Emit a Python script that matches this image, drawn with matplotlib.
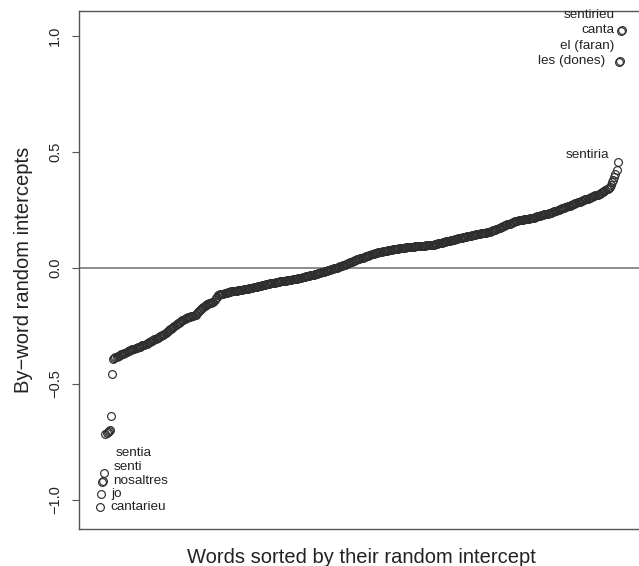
import numpy as np
import matplotlib
matplotlib.use("Agg")
import matplotlib.pyplot as plt

plt.rcParams['font.family'] = ['Liberation Sans', 'DejaVu Sans']

# by-word random intercepts, sorted
intercepts = [
    -1.034, -0.978, -0.925, -0.918, -0.884, -0.716, -0.712, -0.709, -0.705, -0.700,
    -0.640, -0.460, -0.392, -0.388, -0.386, -0.383, -0.382, -0.379, -0.377, -0.374,
    -0.372, -0.371, -0.368, -0.366, -0.363, -0.361, -0.359, -0.356, -0.354, -0.352,
    -0.350, -0.349, -0.347, -0.345, -0.343, -0.341, -0.340, -0.337, -0.335, -0.333,
    -0.331, -0.329, -0.327, -0.325, -0.322, -0.320, -0.317, -0.315, -0.312, -0.309,
    -0.306, -0.304, -0.301, -0.298, -0.296, -0.293, -0.290, -0.288, -0.285, -0.282,
    -0.278, -0.274, -0.270, -0.266, -0.262, -0.258, -0.254, -0.250, -0.246, -0.243,
    -0.240, -0.237, -0.233, -0.230, -0.227, -0.224, -0.220, -0.217, -0.215, -0.214,
    -0.212, -0.211, -0.209, -0.208, -0.206, -0.205, -0.203, -0.197, -0.191, -0.186,
    -0.182, -0.178, -0.174, -0.169, -0.165, -0.160, -0.158, -0.156, -0.154, -0.152,
    -0.150, -0.148, -0.146, -0.139, -0.132, -0.124, -0.117, -0.116, -0.115, -0.113,
    -0.112, -0.111, -0.110, -0.109, -0.107, -0.106, -0.105, -0.104, -0.102, -0.101,
    -0.100, -0.099, -0.099, -0.098, -0.097, -0.096, -0.095, -0.095, -0.094, -0.093,
    -0.092, -0.092, -0.091, -0.090, -0.089, -0.089, -0.088, -0.086, -0.085, -0.084,
    -0.083, -0.082, -0.080, -0.079, -0.078, -0.077, -0.075, -0.074, -0.073, -0.072,
    -0.071, -0.069, -0.068, -0.067, -0.066, -0.065, -0.064, -0.064, -0.063, -0.062,
    -0.061, -0.060, -0.059, -0.058, -0.058, -0.057, -0.056, -0.055, -0.054, -0.053,
    -0.053, -0.052, -0.051, -0.050, -0.049, -0.048, -0.048, -0.047, -0.046, -0.045,
    -0.044, -0.042, -0.041, -0.040, -0.039, -0.037, -0.036, -0.035, -0.034, -0.033,
    -0.031, -0.030, -0.029, -0.028, -0.026, -0.025, -0.024, -0.023, -0.021, -0.020,
    -0.018, -0.017, -0.015, -0.014, -0.012, -0.011, -0.009, -0.008, -0.006, -0.005,
    -0.003, -0.002, 0.000, 0.001, 0.003, 0.004, 0.006, 0.008, 0.010, 0.012,
    0.014, 0.016, 0.018, 0.020, 0.022, 0.024, 0.026, 0.028, 0.030, 0.032,
    0.034, 0.036, 0.037, 0.039, 0.041, 0.043, 0.044, 0.046, 0.048, 0.049,
    0.051, 0.053, 0.055, 0.056, 0.058, 0.060, 0.061, 0.063, 0.065, 0.066,
    0.067, 0.068, 0.069, 0.070, 0.071, 0.071, 0.072, 0.073, 0.074, 0.075,
    0.076, 0.077, 0.078, 0.079, 0.080, 0.081, 0.081, 0.082, 0.083, 0.084,
    0.085, 0.086, 0.086, 0.087, 0.087, 0.088, 0.088, 0.089, 0.089, 0.090,
    0.090, 0.091, 0.091, 0.092, 0.092, 0.093, 0.093, 0.094, 0.094, 0.095,
    0.095, 0.096, 0.096, 0.097, 0.097, 0.098, 0.098, 0.099, 0.099, 0.100,
    0.100, 0.101, 0.103, 0.104, 0.105, 0.106, 0.108, 0.109, 0.110, 0.111,
    0.112, 0.114, 0.115, 0.116, 0.117, 0.118, 0.120, 0.121, 0.122, 0.123,
    0.124, 0.126, 0.127, 0.128, 0.129, 0.130, 0.132, 0.133, 0.134, 0.135,
    0.136, 0.137, 0.138, 0.139, 0.140, 0.141, 0.142, 0.143, 0.144, 0.145,
    0.146, 0.147, 0.148, 0.148, 0.149, 0.150, 0.151, 0.152, 0.153, 0.154,
    0.155, 0.157, 0.159, 0.161, 0.163, 0.165, 0.167, 0.169, 0.171, 0.173,
    0.175, 0.177, 0.179, 0.181, 0.183, 0.185, 0.187, 0.189, 0.191, 0.193,
    0.195, 0.197, 0.199, 0.201, 0.203, 0.204, 0.205, 0.205, 0.206, 0.207,
    0.208, 0.209, 0.210, 0.210, 0.211, 0.212, 0.213, 0.214, 0.215, 0.216,
    0.217, 0.219, 0.220, 0.222, 0.223, 0.224, 0.226, 0.227, 0.229, 0.230,
    0.231, 0.233, 0.234, 0.235, 0.237, 0.238, 0.240, 0.241, 0.243, 0.245,
    0.247, 0.248, 0.250, 0.252, 0.254, 0.256, 0.257, 0.259, 0.261, 0.263,
    0.265, 0.267, 0.268, 0.270, 0.272, 0.274, 0.276, 0.278, 0.280, 0.282,
    0.283, 0.285, 0.287, 0.289, 0.291, 0.293, 0.295, 0.297, 0.298, 0.300,
    0.302, 0.304, 0.306, 0.308, 0.310, 0.312, 0.313, 0.315, 0.317, 0.319,
    0.322, 0.326, 0.329, 0.332, 0.336, 0.339, 0.342, 0.346, 0.349, 0.358,
    0.371, 0.380, 0.392, 0.405, 0.422, 0.457, 0.888, 0.893, 1.020, 1.026,
]

low_words = ["sentia", "senti", "nosaltres", "jo", "cantarieu"]
high_words = ["sentirieu", "canta", "el (faran)", "les (dones)"]
mid_word = "sentiria"

y = np.array(intercepts)
n = len(y)
x = np.arange(1, n + 1)

fig = plt.figure(figsize=(6.39, 5.66), dpi=100)
ax = fig.add_axes([79 / 639, 1 - 529 / 566, 564 / 639, 518 / 566])

ax.axhline(0, color='#6e6e6e', lw=1.1, zorder=1)
ax.plot(x, y, 'o', ms=5.6, mfc='none', mec='#2e2e2e', mew=0.85, zorder=2)

# R style 4% padding
pad = 0.04 * (n - 1)
ax.set_xlim(1 - pad, n + pad)
ax.set_ylim(-1.127, 1.108)

# labels for the extreme words
lx = [15.5, 13.7, 12.8, 11.0, 10.0]
ly = [-0.797, -0.858, -0.918, -0.978, -1.034]
for w, xx, yy in zip(low_words, lx, ly):
    ax.text(xx, yy, w, ha='left', va='center', fontsize=9.7, color='#222222')
hx = [463.5, 463.0, 463.0, 454.5]
hy = [1.091, 1.026, 0.957, 0.892]
for w, xx, yy in zip(high_words, hx, hy):
    ax.text(xx, yy, w, ha='right', va='center', fontsize=9.7, color='#222222')
ax.text(458, 0.487, mid_word, ha='right', va='center', fontsize=9.7, color='#222222')

ax.set_xticks([])
ax.set_yticks([-1.0, -0.5, 0.0, 0.5, 1.0])
ax.set_yticklabels(['\u22121.0', '\u22120.5', '0.0', '0.5', '1.0'],
                   rotation=90, va='center', fontsize=10.5, color='#222222')
ax.tick_params(axis='y', length=5, width=0.8, color='#555555', pad=7)

for s in ax.spines.values():
    s.set_color('#555555')
    s.set_linewidth(1.0)

ax.set_ylabel('By\u2212word random intercepts', fontsize=14.5, color='#222222', labelpad=11)
ax.set_xlabel('Words sorted by their random intercept', fontsize=14.5, color='#222222', labelpad=14)

fig.savefig('out.png', dpi=100)
